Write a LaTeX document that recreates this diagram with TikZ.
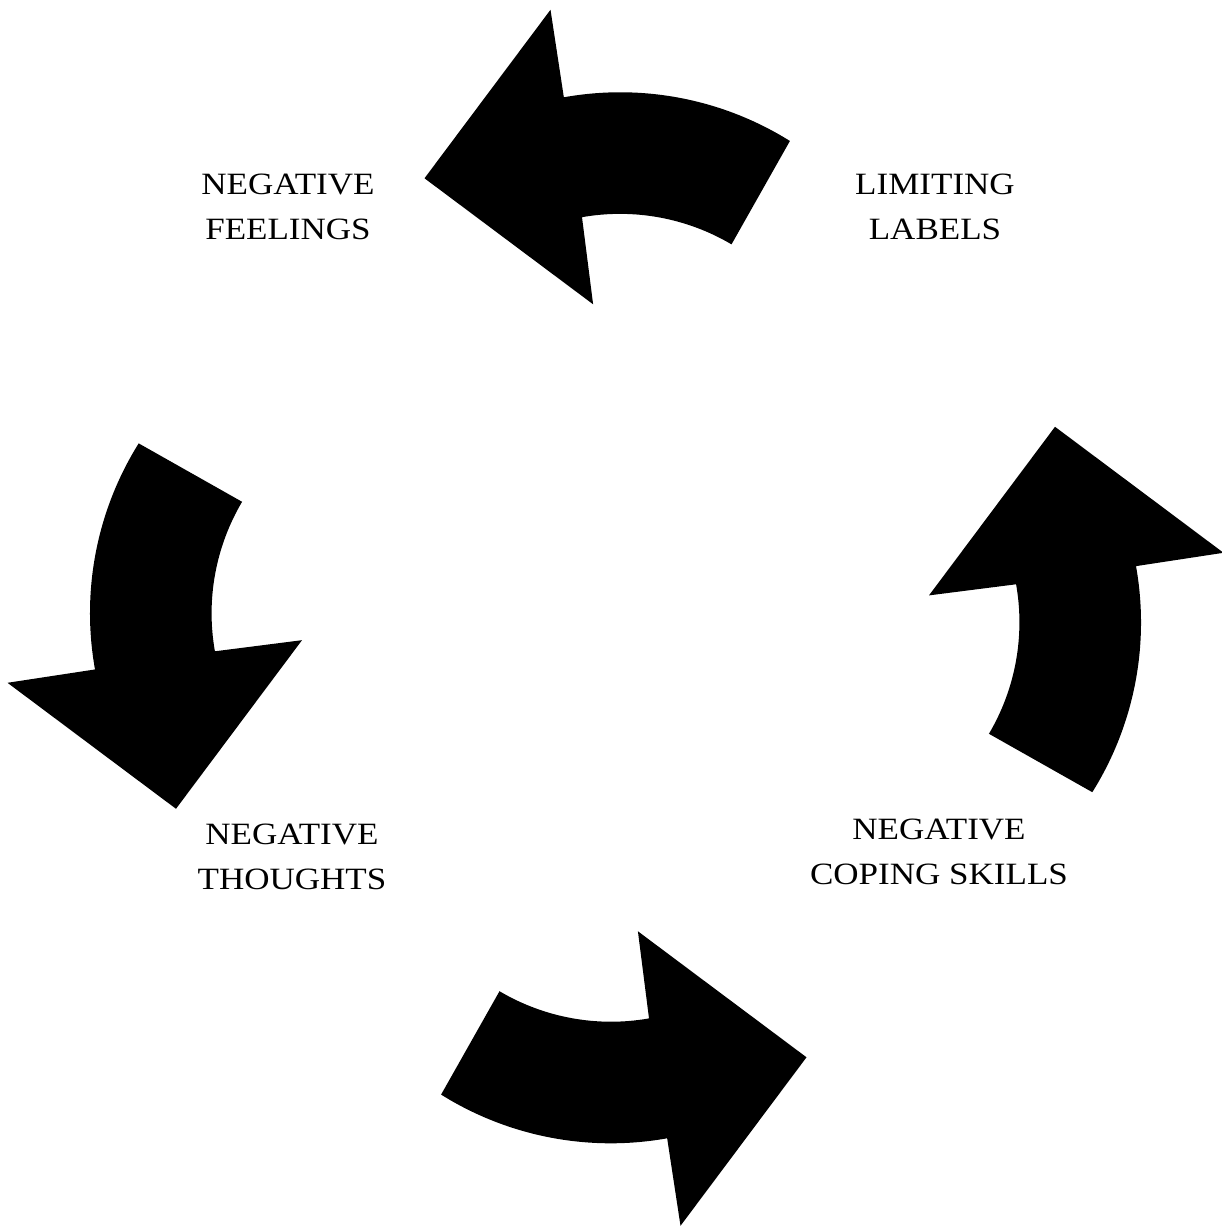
\documentclass[tikz,border=0pt]{standalone}
\usepackage{fontspec}
\setmainfont{Liberation Serif}[FakeStretch=1.13]
\tikzset{
  arrowshape/.style={fill=black, draw=none},
  lbl/.style={align=center, inner sep=0pt, font=\fontsize{31}{44.5}\selectfont}
}
\begin{document}
\begin{tikzpicture}[x=1pt,y=1pt]
\useasboundingbox (0,0) rectangle (1222,1231);
\foreach \ang in {0,90,180,270} {
  \begin{scope}[shift={(615.5,613.2)}, rotate=\ang]
    \fill[arrowshape] (174.4,476.8)
      arc[start angle=57.96, end angle=100.16, radius=319.8pt]
      -- (-65,608) -- (-191,439.5) -- (-22.4,313.5) -- (-33.5,400.6)
      arc[start angle=99.99, end angle=59.41, radius=219.1pt]
      -- cycle;
  \end{scope}
}
\node[lbl] (feel) at (288,1024) {NEGATIVE\\FEELINGS};
\node[lbl] (lim) at (935,1024) {LIMITING\\LABELS};
\node[lbl] (thou) at (292,374) {NEGATIVE\\THOUGHTS};
\node[lbl] (cope) at (939,379) {NEGATIVE\\COPING SKILLS};
\end{tikzpicture}
\end{document}
